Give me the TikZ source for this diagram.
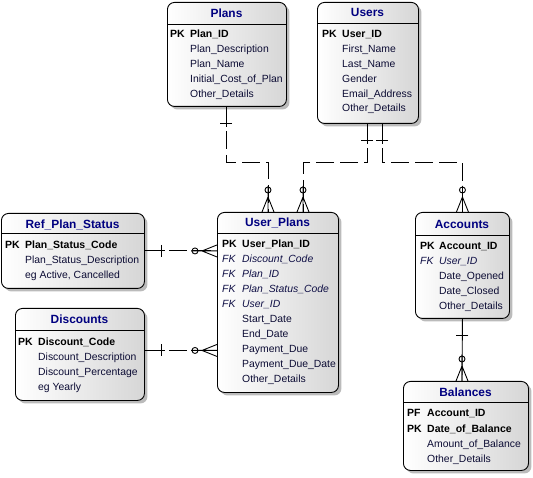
\documentclass[tikz,border=0pt]{standalone}
\usepackage{fontspec}
\setmainfont{Liberation Sans}
\usetikzlibrary{calc,shadows}
\definecolor{ttlblue}{RGB}{0,0,128}
\definecolor{attblue}{RGB}{12,12,52}
\definecolor{fkblue}{RGB}{16,16,70}
\definecolor{boxgray}{RGB}{214,214,214}
\definecolor{shadowgray}{RGB}{120,120,120}
\tikzset{
  ent/.style={draw=black, line width=0.9pt, rounded corners=7pt, left color=white, right color=boxgray,
    anchor=north west, inner sep=0pt,
    drop shadow={shadow xshift=3pt, shadow yshift=-3pt, fill=shadowgray, opacity=0.5}},
  hdr/.style={line width=0.8pt},
  ttl/.style={anchor=base, inner sep=0pt, font=\fontsize{11.9}{13}\selectfont\bfseries, text=ttlblue},
  keylbl/.style={anchor=base west, inner sep=0pt, font=\fontsize{10.5}{12}\selectfont\bfseries, text=black},
  fklbl/.style={anchor=base west, inner sep=0pt, font=\fontsize{10.4}{12}\selectfont\itshape, text=fkblue},
  att/.style={anchor=base west, inner sep=0pt, font=\fontsize{10.4}{12}\selectfont, text=attblue},
  rel/.style={line width=0.9pt, dash pattern=on 18pt off 6pt},
  relsolid/.style={line width=0.9pt},
  manyend/.pic={\draw[relsolid] (-26,0) -- (0,0) (-15,0) -- (0,-6) (-15,0) -- (0,6);
                \draw[relsolid] (-22,0) circle (3pt);},
  oneend/.pic={\draw[relsolid] (0,0) -- (20,0) (17,-6) -- (17,6);}
}
\begin{document}
\begin{tikzpicture}[x=1pt,y=-1pt]
\useasboundingbox (0,0) rectangle (533,478);

% ---------- entities ----------
\node[ent, minimum width=119pt, minimum height=104pt] (plans) at (167,2) {};
\node[ent, minimum width=101pt, minimum height=121pt] (users) at (317,2) {};
\node[ent, minimum width=143pt, minimum height=75pt] (refstatus) at (1,213) {};
\node[ent, minimum width=129pt, minimum height=92pt] (discounts) at (15,308) {};
\node[ent, minimum width=121pt, minimum height=180pt] (userplans) at (217,212) {};
\node[ent, minimum width=94pt, minimum height=106pt] (accounts) at (415,212) {};
\node[ent, minimum width=125pt, minimum height=89pt] (balances) at (403,381) {};

\draw[hdr] ($(plans.north west)+(0,22)$) -- ($(plans.north east)+(0,22)$);
\draw[hdr] ($(users.north west)+(0,21)$) -- ($(users.north east)+(0,21)$);
\draw[hdr] ($(refstatus.north west)+(0,20)$) -- ($(refstatus.north east)+(0,20)$);
\draw[hdr] ($(discounts.north west)+(0,22)$) -- ($(discounts.north east)+(0,22)$);
\draw[hdr] ($(userplans.north west)+(0,21)$) -- ($(userplans.north east)+(0,21)$);
\draw[hdr] ($(accounts.north west)+(0,23)$) -- ($(accounts.north east)+(0,23)$);
\draw[hdr] ($(balances.north west)+(0,21)$) -- ($(balances.north east)+(0,21)$);

% ---------- Plans ----------
\node[ttl] (plans-t) at (226.5,17.5) {Plans};
\node[keylbl] (plans-k) at (170,38) {PK};
\node[keylbl] (plans-0) at (190,38) {Plan\_ID};
\foreach \t [count=\i] in {Plan\_Description, Plan\_Name, Initial\_Cost\_of\_Plan, Other\_Details}
  \node[att] (plans-\i) at (190,38+15*\i) {\t};

% ---------- Users ----------
\node[ttl] (users-t) at (367.5,16.5) {Users};
\node[keylbl] (users-k) at (322,37.5) {PK};
\node[keylbl] (users-0) at (342,37.5) {User\_ID};
\foreach \t [count=\i] in {First\_Name, Last\_Name, Gender, Email\_Address, Other\_Details}
  \node[att] (users-\i) at (342,37.5+14.9*\i) {\t};

% ---------- Ref_Plan_Status ----------
\node[ttl] (refstatus-t) at (72.5,228.5) {Ref\_Plan\_Status};
\node[keylbl] (refstatus-k) at (5,249) {PK};
\node[keylbl] (refstatus-0) at (25,249) {Plan\_Status\_Code};
\node[att] (refstatus-1) at (25,264) {Plan\_Status\_Description};
\node[att] (refstatus-2) at (25,278.5) {eg Active, Cancelled};

% ---------- Discounts ----------
\node[ttl] (discounts-t) at (79.5,323.5) {Discounts};
\node[keylbl] (discounts-k) at (18,345) {PK};
\node[keylbl] (discounts-0) at (38,345) {Discount\_Code};
\node[att] (discounts-1) at (38,360) {Discount\_Description};
\node[att] (discounts-2) at (38,375) {Discount\_Percentage};
\node[att] (discounts-3) at (38,390) {eg Yearly};

% ---------- User_Plans ----------
\node[ttl] (userplans-t) at (277.5,226.5) {User\_Plans};
\node[keylbl] (userplans-k) at (222,248) {PK};
\node[keylbl] (userplans-0) at (242,248) {User\_Plan\_ID};
\foreach \t [count=\i] in {Discount\_Code, Plan\_ID, Plan\_Status\_Code, User\_ID} {
  \node[fklbl] (userplans-fk\i) at (222,248+14.9*\i) {FK};
  \node[fklbl] (userplans-f\i) at (242,248+14.9*\i) {\t};
}
\foreach \t [count=\i] in {Start\_Date, End\_Date, Payment\_Due, Payment\_Due\_Date, Other\_Details}
  \node[att] (userplans-\i) at (242,307.6+14.9*\i) {\t};

% ---------- Accounts ----------
\node[ttl] (accounts-t) at (462,229) {Accounts};
\node[keylbl] (accounts-k) at (420,250) {PK};
\node[keylbl] (accounts-0) at (439,250) {Account\_ID};
\node[fklbl] (accounts-fk) at (420,264.5) {FK};
\node[fklbl] (accounts-f) at (439,264.5) {User\_ID};
\foreach \t [count=\i] in {Date\_Opened, Date\_Closed, Other\_Details}
  \node[att] (accounts-\i) at (439,264.5+14.9*\i) {\t};

% ---------- Balances ----------
\node[ttl] (balances-t) at (465.5,396.5) {Balances};
\node[keylbl] (balances-k1) at (407,417) {PF};
\node[keylbl] (balances-a1) at (427,417) {Account\_ID};
\node[keylbl] (balances-k2) at (407,432) {PK};
\node[keylbl] (balances-a2) at (427,432) {Date\_of\_Balance};
\node[att] (balances-1) at (427,447) {Amount\_of\_Balance};
\node[att] (balances-2) at (427,462) {Other\_Details};

% ---------- relationships ----------
\coordinate (r1a) at ($(plans.south west)+(59,0)$);
\coordinate (r1b) at ($(userplans.north west)+(51,0)$);
\coordinate (r2a) at ($(users.south west)+(50,0)$);
\coordinate (r2b) at ($(userplans.north west)+(86,0)$);
\coordinate (r3a) at ($(users.south west)+(65,0)$);
\coordinate (r3b) at (accounts.north);
\coordinate (r5a) at ($(discounts.east)+(0,-4)$);
\coordinate (r6b) at ($(balances.north west)+(59,0)$);

\draw[rel] (r1a) -- ++(0,56) -| (r1b);
\pic[rotate=-90] at (r1a) {oneend};
\pic[rotate=-90] at (r1b) {manyend};

\draw[rel] (r2a) -- ++(0,39) -| (r2b);
\pic[rotate=-90] at (r2a) {oneend};
\pic[rotate=-90] at (r2b) {manyend};

\draw[rel] (r3a) -- ++(0,39) -| (r3b);
\pic[rotate=-90] at (r3a) {oneend};
\pic[rotate=-90] at (r3b) {manyend};

\draw[rel] (refstatus.east) -- (refstatus.east -| userplans.west);
\pic at (refstatus.east) {oneend};
\pic at (refstatus.east -| userplans.west) {manyend};

\draw[rel] (r5a) -- (r5a -| userplans.west);
\pic at (r5a) {oneend};
\pic at (r5a -| userplans.west) {manyend};

\draw[relsolid] (accounts.south) -- (r6b);
\pic[rotate=-90] at (accounts.south) {oneend};
\pic[rotate=-90] at (r6b) {manyend};
\end{tikzpicture}
\end{document}
